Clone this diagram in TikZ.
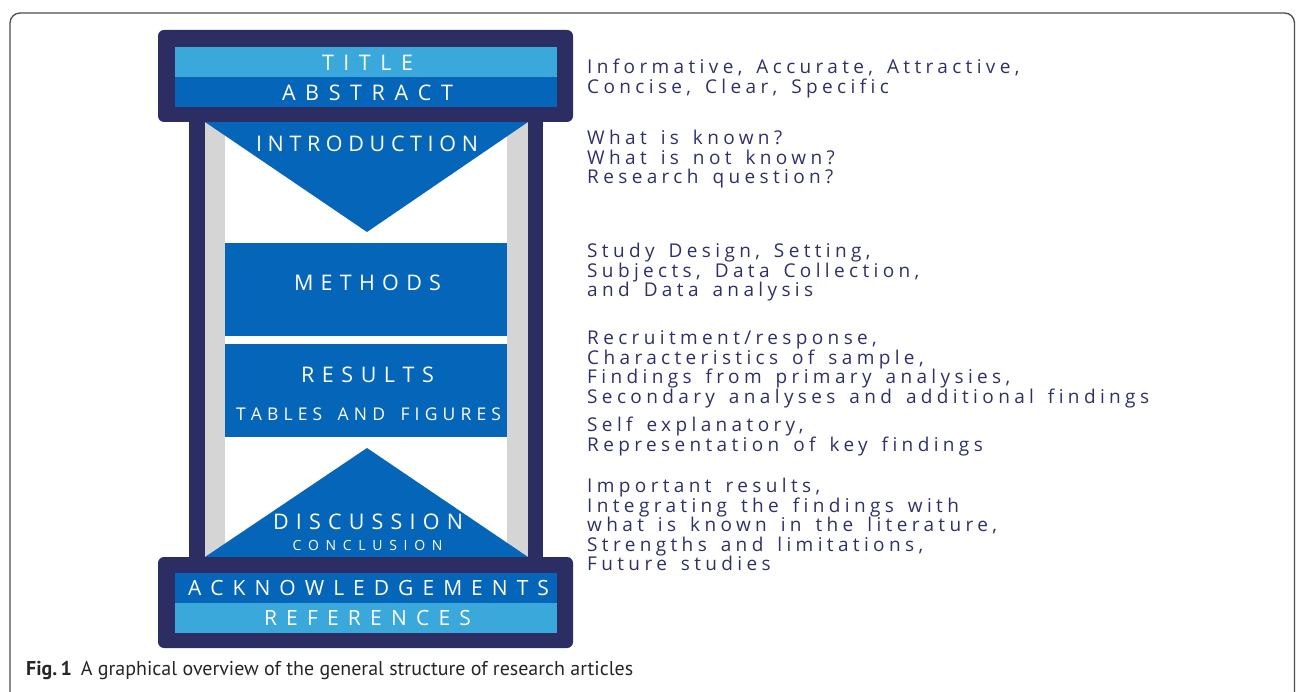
\documentclass[tikz,border=0pt]{standalone}
\usepackage{fontspec}
\usepackage{graphicx}
\setmainfont{Open Sans}
\newfontfamily\capfont{PT Sans}
\newfontfamily\rtfont[LetterSpace=23,WordSpace=1.5,Ligatures=NoCommon]{Open Sans}
\definecolor{navy}{HTML}{2B2D63}
\definecolor{dblue}{HTML}{0565B9}
\definecolor{lblue}{HTML}{3AA8DA}
\definecolor{pgray}{HTML}{D5D5D5}
\definecolor{txt}{HTML}{2E3168}
\definecolor{frame}{HTML}{4D4D4D}
\ExplSyntaxOn
\bool_new:N \l_rs_firstword_bool
\bool_new:N \l_rs_firstletter_bool
\seq_new:N \l_rs_words_seq
\cs_new_protected:Npn \rs_spread:nn #1#2
  {
    \hbox to #1
      {
        \seq_set_split:Nnn \l_rs_words_seq { ~ } {#2}
        \bool_set_true:N \l_rs_firstword_bool
        \seq_map_inline:Nn \l_rs_words_seq
          {
            \bool_if:NF \l_rs_firstword_bool { \skip_horizontal:n { 0pt plus 3fil } }
            \bool_set_false:N \l_rs_firstword_bool
            \bool_set_true:N \l_rs_firstletter_bool
            \tl_map_inline:nn {##1}
              {
                \bool_if:NF \l_rs_firstletter_bool { \hfil }
                \bool_set_false:N \l_rs_firstletter_bool
                ####1
              }
          }
      }
  }
\NewDocumentCommand \spread { m m } { \rs_spread:nn {#1} {#2} }
\ExplSyntaxOff
\begin{document}
\begin{tikzpicture}[x=1pt,y=-1pt,
  lab/.style={anchor=base, inner sep=0pt, text=white},
  big/.style={lab, font=\fontsize{21.5}{24}\selectfont},
  rt/.style={anchor=base west, inner sep=0pt, text=txt,
    font=\rtfont\fontsize{19}{19.5}\selectfont}]
\useasboundingbox (0,0) rectangle (1296,692);
\clip (0,0) rectangle (1296,692);
\draw[frame, line width=1.3pt, rounded corners=10pt] (10,13) rectangle (1294.5,730);
% pillar
\fill[navy] (189,110) rectangle (543,570);
\fill[pgray] (205,110) rectangle (528,560);
\fill[white] (225,110) rectangle (507,560);
\fill[dblue] (205,122) -- (528,122) -- (367,232) -- cycle;
\fill[dblue] (225,243) rectangle (507,336);
\fill[dblue] (225,344) rectangle (507,437);
\fill[dblue] (367,448) -- (528,557) -- (205,557) -- cycle;
% caps
\fill[navy, rounded corners=6pt] (158,30) rectangle (573,122);
\fill[lblue] (175,47) rectangle (557,77);
\fill[dblue] (175,77) rectangle (557,107);
\fill[navy, rounded corners=6pt] (158,557) rectangle (573,648);
\fill[dblue] (175,573) rectangle (557,603);
\fill[lblue] (175,603) rectangle (557,633);
% labels
\node[big] (title) at (367.5,70.7) {\spread{91pt}{TITLE}};
\node[big] (abstract) at (367.5,100.7) {\spread{171pt}{ABSTRACT}};
\node[big] (intro) at (367,151.7) {\spread{222pt}{INTRODUCTION}};
\node[big] (methods) at (367.5,290.7) {\spread{147pt}{METHODS}};
\node[big] (results) at (367.5,382.3) {\spread{133pt}{RESULTS}};
\node[lab, font=\fontsize{17.5}{20}\selectfont] (tables) at (368.5,420.7) {\spread{265pt}{TABLES AND FIGURES}};
\node[big] (discussion) at (368,529) {\spread{190pt}{DISCUSSION}};
\node[lab, font=\fontsize{14}{16}\selectfont] (conclusion) at (367.5,550.7) {\spread{150pt}{CONCLUSION}};
\node[lab, font=\fontsize{21}{24}\selectfont] (ack) at (368.5,595) {\spread{361pt}{ACKNOWLEDGEMENTS}};
\node[lab, font=\fontsize{21}{24}\selectfont] (refs) at (367.5,625) {\spread{207pt}{REFERENCES}};
% right texts
\node[rt] (a1) at (587,74) {Informative, Accurate, Attractive,};
\node[rt] (a2) at (587,93.5) {Concise, Clear, Specific};
\node[rt] (b1) at (587,145) {What is known?};
\node[rt] (b2) at (587,164.5) {What is not known?};
\node[rt] (b3) at (587,184) {Research question?};
\node[rt] (c1) at (587,258) {Study Design, Setting,};
\node[rt] (c2) at (587,277.5) {Subjects, Data Collection,};
\node[rt] (c3) at (587,297) {and Data analysis};
\node[rt] (d1) at (587,345) {Recruitment/response,};
\node[rt] (d2) at (587,364.5) {Characteristics of sample,};
\node[rt] (d3) at (587,384) {Findings from primary analysies,};
\node[rt] (d4) at (587,403.5) {Secondary analyses and additional findings};
\node[rt] (e1) at (587,431.5) {Self explanatory,};
\node[rt] (e2) at (587,451) {Representation of key findings};
\node[rt] (f1) at (587,492.3) {Important results,};
\node[rt] (f2) at (587,512) {Integrating the findings with};
\node[rt] (f3) at (587,531.7) {what is known in the literature,};
\node[rt] (f4) at (587,551) {Strengths and limitations,};
\node[rt] (f5) at (587,570) {Future studies};
% caption
\node[anchor=base west, inner sep=0pt, text=black!85] (caption) at (26,675.7)
  {\resizebox{607pt}{\height}{\capfont\fontsize{20}{24}\selectfont\textbf{Fig.\,1}\hspace{0.45em}A graphical overview of the general structure of research articles}};
\end{tikzpicture}
\end{document}
